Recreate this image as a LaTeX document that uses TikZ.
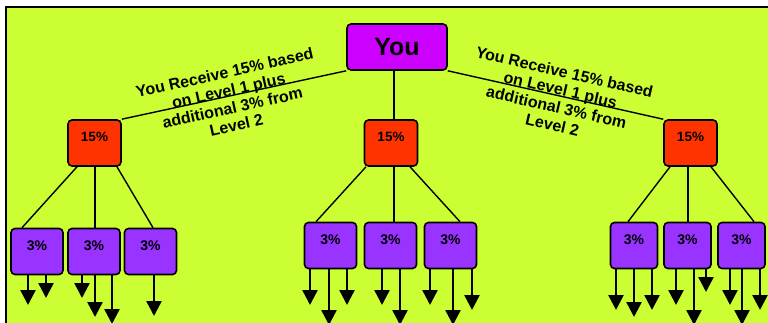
\documentclass[tikz,border=0pt]{standalone}
\usepackage{fontspec}
\setmainfont{Liberation Sans}
\usepackage{xcolor}
\definecolor{bglime}{HTML}{CCFF33}
\definecolor{youpurple}{HTML}{CC00FF}
\definecolor{lvred}{HTML}{FF3300}
\definecolor{lvviolet}{HTML}{9933FF}
\usepackage{tikz}
\usetikzlibrary{arrows.meta,positioning,calc}

\begin{document}
\begin{tikzpicture}[
  x=1pt,
  y=-1pt,
  you/.style={draw, line width=1.6pt, rounded corners=4pt, fill=youpurple, minimum width=100pt, minimum height=46pt, inner sep=0pt, font=\fontsize{25}{30}\selectfont\bfseries},
  lvone/.style={draw, line width=1.6pt, rounded corners=4pt, fill=lvred, minimum width=53pt, inner sep=0pt, text height=22pt, text depth=24pt, font=\fontsize{13.5}{15}\selectfont\bfseries},
  lvtwo/.style={draw, line width=1.6pt, rounded corners=4pt, fill=lvviolet, minimum width=52pt, inner sep=0pt, text height=22pt, text depth=24pt, font=\fontsize{14}{15}\selectfont\bfseries},
  link/.style={line width=1.4pt},
  down/.style={line width=2.5pt, -{Triangle[width=15pt,length=15pt]}},
  note/.style={align=center, inner sep=0pt, font=\fontsize{16}{18}\selectfont\bfseries},
]
\useasboundingbox (0,0) rectangle (768,323);
\clip (0,0) rectangle (768,323);

% Frame
\fill[white] (0,0) rectangle (768,323);
\fill[bglime] (6,7) rectangle (768,323);
\draw[line width=2.8pt] (6,323) -- (6,7) -- (768,7);

% Top
\node[you] (you) at (397,47) {You};

% Level 1
\node[lvone] (l1) at (94.5,143) {15\%};
\node[lvone] (m1) at (391,143) {15\%};
\node[lvone] (r1) at (690.5,143) {15\%};

% Level 2
\node[lvtwo] (a1) at (37,251.5) {3\%};
\node[lvtwo] (a2) at (94,251.5) {3\%};
\node[lvtwo] (a3) at (150.5,251.5) {3\%};
\node[lvtwo] (b1) at (330.5,245.5) {3\%};
\node[lvtwo] (b2) at (390.5,245.5) {3\%};
\node[lvtwo] (b3) at (450.5,245.5) {3\%};
\node[lvtwo, minimum width=47pt] (c1) at (634,245.5) {3\%};
\node[lvtwo, minimum width=47pt] (c2) at (687.5,245.5) {3\%};
\node[lvtwo, minimum width=47pt] (c3) at (741.5,245.5) {3\%};

% Notes on the side links
\node[note, rotate=12.5] (lnote) at (230.5,99) {You Receive 15\% based\\on Level 1 plus\\additional 3\% from\\Level 2};
\node[note, rotate=-13] (rnote) at (558.5,98.5) {You Receive 15\% based\\on Level 1 plus\\additional 3\% from\\Level 2};

% Links: top to level 1
\draw[link] (you.south west) -- (l1.north east);
\draw[link] ([xshift=-3pt]you.south) -- ([xshift=3pt]m1.north);
\draw[link] (you.south east) -- (r1.north west);

% Links: level 1 to level 2
\foreach \up/\dx/\low/\ex in {l1/-17.5/a1/-15, l1/0.5/a2/1, l1/22.5/a3/2.5,
                             m1/-25/b1/-14.5, m1/3/b2/3.5, m1/19/b3/9.5,
                             r1/-20.5/c1/-6, r1/-2.5/c2/0.5, r1/20.5/c3/12.5}
  \draw[link] ([xshift=\dx pt]\up.south) -- ([xshift=\ex pt]\low.north);

% Arrows out of level 2
\foreach \bx/\px/\py [count=\i] in {a1/28/305, a1/46/298, a2/82/298, a2/95/317, a2/112/324, a3/154/316,
                                   b1/310/305, b1/329/325, b1/347/305, b2/382/305, b2/400/325,
                                   b3/430/305, b3/453/325, b3/472/310,
                                   c1/616/310, c1/634/317, c1/652/310, c2/676/305, c2/694/325, c2/706/292,
                                   c3/730/305, c3/742/325, c3/760/310}
{
  \coordinate (tip\i) at (\px,\py);
  \draw[down] (tip\i |- \bx.south) -- (tip\i);
}

\end{tikzpicture}
\end{document}
